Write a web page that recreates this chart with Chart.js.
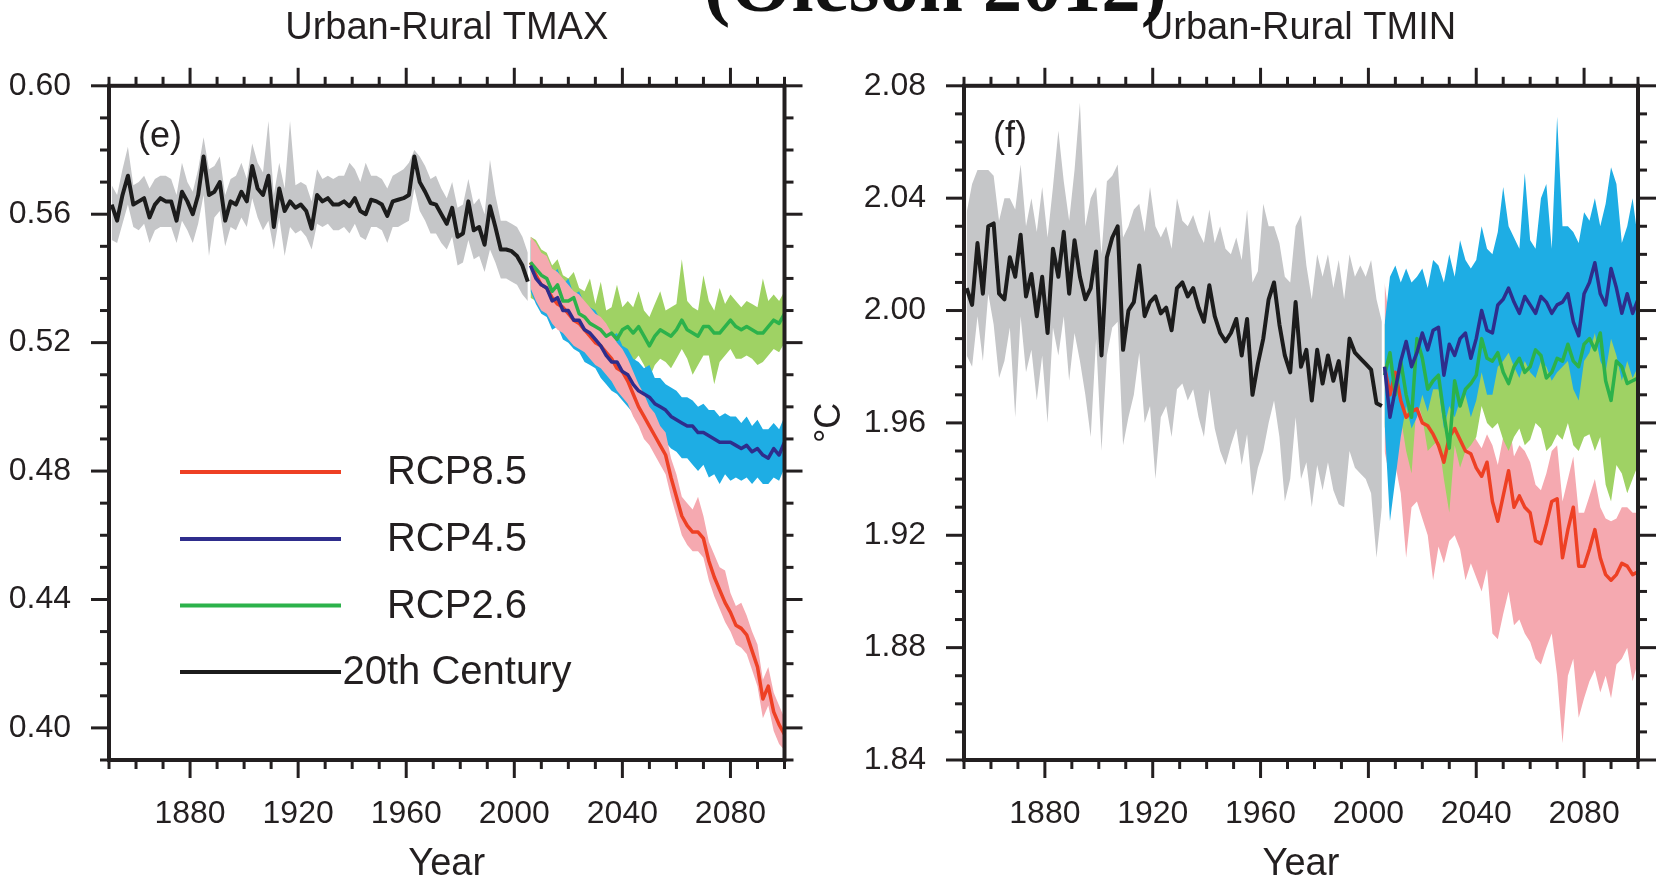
<!DOCTYPE html>
<html>
<head>
<meta charset="utf-8">
<script src="https://cdn.jsdelivr.net/npm/chart.js@4.4.1/dist/chart.umd.min.js"></script>
<style>
  body { margin: 0; background: #fff; width: 1660px; height: 887px; overflow: hidden; position: relative; }
  #left { position: absolute; left: 0; top: 0; }
  #right { position: absolute; left: 790px; top: 0; }
  #source { position: absolute; left: 704px; top: -55px; font: bold 79px "Liberation Serif", serif; line-height: 79px; color: #111; white-space: nowrap; }
</style>
</head>
<body>
<canvas id="left" width="830" height="887"></canvas>
<canvas id="right" width="870" height="887"></canvas>
<div id="source">(Oleson 2012)</div>
<script>
const FONT = '"Liberation Sans", Arial, sans-serif';
const INK = '#231f20';

function yearsFrom(start, end, step) {
  const out = [];
  for (let y = start; y <= end; y += step) out.push(y);
  return out;
}
const histYears = yearsFrom(1851, 2005, 2);
const rcpYears = yearsFrom(2006, 2100, 2);

// ticks
const yearTicks = [1880, 1920, 1960, 2000, 2040, 2080];
const yearMinor = [1850, 1860, 1870, 1890, 1900, 1910, 1930, 1940, 1950, 1970, 1980, 1990, 2010, 2020, 2030, 2050, 2060, 2070, 2090, 2100];
const tmaxTicks = [0.40, 0.44, 0.48, 0.52, 0.56, 0.60];
const tmaxMinor = [0.39, 0.41, 0.42, 0.43, 0.45, 0.46, 0.47, 0.49, 0.50, 0.51, 0.53, 0.54, 0.55, 0.57, 0.58, 0.59];
const tminTicks = [1.84, 1.88, 1.92, 1.96, 2.00, 2.04, 2.08];
const tminMinor = [1.85, 1.86, 1.87, 1.89, 1.90, 1.91, 1.93, 1.94, 1.95, 1.97, 1.98, 1.99, 2.01, 2.02, 2.03, 2.05, 2.06, 2.07];

// ---- Urban-Rural TMAX ----
const tmaxHist = [
  .563, .558, .566, .572, .563, .564, .565, .559, .563, .565,
  .564, .564, .558, .567, .564, .560, .566, .578, .566, .567,
  .570, .558, .564, .563, .567, .564, .575, .568, .566, .572,
  .556, .568, .561, .564, .562, .563, .561, .5555, .566, .564,
  .565, .563, .563, .564, .5625, .565, .561, .560, .5645, .564,
  .563, .5595, .564, .5645, .565, .566, .578, .570, .567, .5635,
  .563, .560, .557, .562, .553, .554, .564, .555, .556, .5505,
  .5625, .556, .549, .549, .5485, .547, .544, .539];
const tmaxHistHi = [
  .569, .566, .574, .581, .569, .570, .572, .568, .571, .572,
  .572, .571, .566, .576, .570, .567, .574, .584, .574, .575,
  .578, .566, .571, .572, .576, .571, .582, .576, .573, .589,
  .566, .576, .568, .589, .569, .570, .569, .564, .574, .571,
  .572, .571, .572, .572, .576, .574, .570, .576, .572, .572,
  .571, .568, .572, .573, .574, .576, .580, .578, .575, .571,
  .572, .568, .565, .570, .562, .563, .571, .563, .565, .560,
  .577, .566, .558, .558, .557, .556, .553, .548];
const tmaxHistLo = [
  .552, .551, .557, .563, .556, .555, .557, .551, .555, .556,
  .556, .556, .551, .558, .555, .551, .557, .566, .547, .559,
  .561, .550, .556, .555, .559, .556, .565, .559, .555, .558,
  .549, .559, .547, .556, .554, .555, .553, .549, .557, .556,
  .557, .555, .555, .556, .554, .557, .553, .552, .556, .556,
  .555, .551, .556, .556, .557, .558, .568, .561, .558, .554,
  .554, .551, .549, .553, .544, .545, .552, .546, .547, .542,
  .549, .545, .540, .540, .539, .538, .535, .533];
const tmax26 = [
  .545, .543, .541, .540, .536, .538, .533, .533, .534, .529,
  .528, .526, .525, .524, .522, .523, .521, .524, .525, .523,
  .525, .522, .519, .522, .524, .523, .522, .524, .527, .524,
  .523, .522, .525, .525, .523, .523, .525, .527, .525, .524,
  .525, .524, .523, .523, .525, .527, .526, .529];
const tmax26Hi = [
  .553, .552, .549, .548, .544, .546, .541, .540, .542, .537,
  .536, .540, .532, .539, .530, .531, .538, .531, .533, .531,
  .536, .530, .528, .532, .536, .530, .531, .532, .546, .533,
  .531, .530, .541, .533, .530, .537, .532, .535, .533, .531,
  .533, .532, .531, .540, .533, .535, .533, .536];
const tmax26Lo = [
  .534, .533, .531, .530, .527, .529, .524, .523, .524, .520,
  .518, .517, .516, .515, .513, .514, .512, .515, .509, .514,
  .516, .513, .509, .513, .515, .514, .512, .515, .518, .515,
  .510, .513, .516, .516, .507, .514, .516, .518, .515, .515,
  .516, .515, .513, .514, .516, .518, .517, .520];
const tmax45 = [
  .544, .540, .538, .537, .533, .534, .530, .530, .527, .527,
  .524, .523, .521, .519, .516, .514, .514, .511, .510, .507,
  .505, .504, .503, .501, .500, .499, .497, .496, .495, .494,
  .494, .492, .492, .491, .490, .489, .489, .489, .488, .487,
  .488, .486, .487, .485, .484, .487, .485, .489];
const tmax45Hi = [
  .552, .549, .547, .545, .541, .543, .538, .540, .535, .536,
  .532, .531, .530, .527, .525, .522, .523, .519, .518, .515,
  .514, .512, .513, .509, .509, .507, .506, .505, .503, .503,
  .502, .500, .501, .499, .499, .497, .498, .497, .497, .495,
  .497, .494, .496, .493, .493, .495, .493, .497];
const tmax45Lo = [
  .536, .532, .529, .528, .524, .525, .521, .520, .518, .517,
  .514, .513, .512, .509, .507, .505, .504, .502, .500, .498,
  .496, .495, .493, .492, .490, .489, .487, .486, .484, .484,
  .482, .480, .482, .478, .479, .476, .479, .477, .478, .477,
  .478, .476, .478, .476, .476, .478, .477, .481];
const tmax85 = [
  .545, .541, .538, .537, .534, .532, .531, .529, .527, .526,
  .524, .522, .520, .519, .517, .515, .512, .511, .508, .504,
  .500, .497, .494, .491, .488, .485, .478, .472, .466, .463,
  .461, .461, .459, .452, .447, .443, .439, .436, .432, .431,
  .429, .424, .419, .409, .413, .405, .401, .398];
const tmax85Hi = [
  .553, .551, .548, .547, .543, .542, .540, .538, .536, .535,
  .533, .531, .529, .528, .526, .523, .520, .518, .515, .511,
  .507, .504, .500, .498, .494, .492, .484, .479, .472, .470,
  .468, .472, .466, .458, .454, .450, .449, .442, .438, .439,
  .435, .430, .426, .415, .419, .411, .407, .403];
const tmax85Lo = [
  .537, .533, .530, .529, .526, .524, .523, .521, .519, .518,
  .517, .515, .513, .512, .510, .508, .505, .503, .501, .497,
  .494, .490, .488, .485, .482, .479, .472, .466, .460, .457,
  .455, .455, .453, .446, .441, .437, .433, .430, .426, .425,
  .423, .418, .413, .403, .407, .399, .395, .393];

// ---- Urban-Rural TMIN ----
const tminHist = [
  2.008, 2.002, 2.024, 2.006, 2.030, 2.031, 2.006, 2.004, 2.019, 2.012,
  2.027, 2.005, 2.013, 1.998, 2.012, 1.992, 2.022, 2.012, 2.028, 2.006,
  2.025, 2.012, 2.004, 2.008, 2.021, 1.984, 2.019, 2.026, 2.030, 1.986,
  2.000, 2.003, 2.016, 1.998, 2.003, 2.005, 1.999, 2.001, 1.993, 2.008,
  2.010, 2.005, 2.008, 2.001, 1.996, 2.009, 1.998, 1.992, 1.989, 1.992,
  1.997, 1.984, 1.997, 1.970, 1.981, 1.990, 2.004, 2.010, 1.995, 1.984,
  1.978, 2.003, 1.980, 1.986, 1.968, 1.986, 1.974, 1.984, 1.975, 1.982,
  1.968, 1.990, 1.985, 1.983, 1.981, 1.979, 1.967, 1.966];
const tminHistHi = [
  2.035, 2.045, 2.050, 2.050, 2.050, 2.048, 2.032, 2.040, 2.040, 2.036,
  2.052, 2.030, 2.040, 2.028, 2.044, 2.026, 2.044, 2.064, 2.046, 2.032,
  2.050, 2.074, 2.030, 2.040, 2.044, 2.020, 2.046, 2.048, 2.052, 2.026,
  2.030, 2.036, 2.038, 2.028, 2.044, 2.030, 2.026, 2.030, 2.022, 2.040,
  2.032, 2.030, 2.034, 2.028, 2.024, 2.036, 2.024, 2.030, 2.022, 2.020,
  2.026, 2.018, 2.036, 2.010, 2.014, 2.038, 2.030, 2.030, 2.024, 2.012,
  2.010, 2.030, 2.034, 2.016, 2.004, 2.020, 2.012, 2.020, 2.008, 2.018,
  2.004, 2.020, 2.012, 2.016, 2.012, 2.018, 2.004, 1.996];
const tminHistLo = [
  1.984, 1.980, 1.998, 1.982, 2.006, 1.995, 1.976, 1.982, 1.994, 1.962,
  1.998, 1.978, 1.986, 1.968, 1.984, 1.960, 1.994, 1.984, 1.998, 1.975,
  1.992, 1.982, 1.970, 1.955, 1.990, 1.950, 1.984, 1.994, 1.996, 1.952,
  1.962, 1.970, 1.985, 1.960, 1.966, 1.940, 1.962, 1.966, 1.955, 1.972,
  1.974, 1.968, 1.972, 1.962, 1.955, 1.972, 1.958, 1.950, 1.945, 1.952,
  1.958, 1.945, 1.956, 1.934, 1.944, 1.950, 1.960, 1.968, 1.955, 1.932,
  1.940, 1.962, 1.940, 1.946, 1.930, 1.945, 1.936, 1.946, 1.936, 1.931,
  1.930, 1.950, 1.944, 1.942, 1.940, 1.935, 1.912, 1.930];
const tmin26 = [
  1.977, 1.985, 1.970, 1.982, 1.970, 1.962, 1.990, 1.983, 1.972, 1.975,
  1.977, 1.963, 1.951, 1.975, 1.966, 1.972, 1.974, 1.977, 1.990, 1.983,
  1.982, 1.985, 1.978, 1.974, 1.980, 1.983, 1.978, 1.980, 1.986, 1.984,
  1.976, 1.978, 1.983, 1.982, 1.988, 1.982, 1.980, 1.988, 1.990, 1.986,
  1.992, 1.975, 1.968, 1.982, 1.980, 1.974, 1.975, 1.976];
const tmin26Hi = [
  1.995, 2.000, 1.990, 2.000, 1.990, 1.985, 2.010, 2.002, 1.992, 1.995,
  1.996, 1.984, 1.975, 1.995, 1.988, 1.992, 1.994, 1.997, 2.010, 2.002,
  2.001, 2.004, 1.998, 1.994, 2.000, 2.003, 1.998, 2.000, 2.006, 2.004,
  1.996, 1.998, 2.003, 2.002, 2.008, 2.002, 2.000, 2.008, 2.010, 2.006,
  2.012, 1.995, 1.990, 2.002, 2.000, 1.995, 1.996, 1.998];
const tmin26Lo = [
  1.958, 1.965, 1.950, 1.962, 1.950, 1.942, 1.968, 1.962, 1.950, 1.952,
  1.954, 1.940, 1.928, 1.952, 1.944, 1.950, 1.952, 1.955, 1.966, 1.960,
  1.958, 1.960, 1.954, 1.950, 1.955, 1.958, 1.952, 1.954, 1.960, 1.958,
  1.950, 1.952, 1.956, 1.954, 1.960, 1.952, 1.950, 1.955, 1.956, 1.950,
  1.955, 1.938, 1.932, 1.945, 1.942, 1.935, 1.940, 1.945];
const tmin45 = [
  1.980, 1.962, 1.972, 1.982, 1.989, 1.980, 1.985, 1.992, 1.986, 1.993,
  1.994, 1.977, 1.988, 1.984, 1.990, 1.992, 1.983, 1.990, 2.000, 1.993,
  1.992, 2.002, 2.004, 2.008, 2.003, 1.999, 2.005, 2.002, 1.999, 2.005,
  2.003, 1.999, 2.002, 2.003, 2.006, 1.996, 1.991, 2.006, 2.010, 2.017,
  2.006, 2.002, 2.015, 2.008, 1.999, 2.006, 1.999, 2.004];
const tmin45Hi = [
  1.995, 2.012, 2.016, 2.010, 2.015, 2.010, 2.012, 2.015, 2.008, 2.018,
  2.016, 2.010, 2.020, 2.012, 2.025, 2.018, 2.015, 2.018, 2.030, 2.022,
  2.020, 2.028, 2.044, 2.030, 2.026, 2.022, 2.049, 2.025, 2.022, 2.040,
  2.045, 2.022, 2.069, 2.030, 2.030, 2.028, 2.024, 2.035, 2.032, 2.040,
  2.030, 2.038, 2.051, 2.045, 2.024, 2.030, 2.040, 2.025];
const tmin45Lo = [
  1.960, 1.925, 1.940, 1.955, 1.966, 1.958, 1.962, 1.970, 1.964, 1.972,
  1.972, 1.958, 1.966, 1.962, 1.968, 1.970, 1.962, 1.968, 1.978, 1.970,
  1.970, 1.980, 1.982, 1.985, 1.980, 1.976, 1.982, 1.978, 1.976, 1.982,
  1.980, 1.975, 1.978, 1.980, 1.982, 1.972, 1.968, 1.982, 1.985, 1.992,
  1.982, 1.978, 1.990, 1.984, 1.975, 1.982, 1.976, 1.980];
const tmin85 = [
  1.980, 1.970, 1.978, 1.968, 1.962, 1.964, 1.965, 1.960, 1.959, 1.956,
  1.952, 1.946, 1.955, 1.958, 1.954, 1.950, 1.949, 1.944, 1.941, 1.946,
  1.932, 1.925, 1.934, 1.943, 1.930, 1.934, 1.930, 1.928, 1.918, 1.917,
  1.924, 1.932, 1.933, 1.912, 1.922, 1.930, 1.909, 1.909, 1.915, 1.922,
  1.912, 1.906, 1.904, 1.906, 1.910, 1.909, 1.906, 1.907];
const tmin85Hi = [
  2.010, 1.995, 1.990, 1.978, 1.972, 1.975, 1.974, 1.970, 1.968, 1.965,
  1.962, 1.956, 1.966, 1.968, 1.964, 1.960, 1.958, 1.954, 1.951, 1.956,
  1.952, 1.945, 1.955, 1.962, 1.948, 1.952, 1.950, 1.946, 1.938, 1.936,
  1.942, 1.950, 1.952, 1.932, 1.940, 1.948, 1.928, 1.928, 1.934, 1.940,
  1.930, 1.926, 1.925, 1.926, 1.930, 1.930, 1.928, 1.928];
const tmin85Lo = [
  1.950, 1.940, 1.945, 1.935, 1.912, 1.930, 1.932, 1.926, 1.920, 1.904,
  1.916, 1.910, 1.918, 1.920, 1.915, 1.904, 1.910, 1.905, 1.900, 1.908,
  1.885, 1.883, 1.892, 1.900, 1.888, 1.890, 1.885, 1.882, 1.876, 1.874,
  1.880, 1.885, 1.870, 1.846, 1.870, 1.876, 1.855, 1.862, 1.868, 1.872,
  1.864, 1.870, 1.862, 1.874, 1.876, 1.880, 1.868, 1.875];

const colors = {
  hist: '#1c1c1c', histBand: '#c5c6c8',
  rcp85: '#ee4024', rcp85Band: '#f5a9b0',
  rcp45: '#2e2d8c', rcp45Band: '#1eade4',
  rcp26: '#2cb24b', rcp26Band: '#9fd264'
};

function pts(xs, ys) { return xs.map((x, i) => ({ x: x, y: ys[i] })); }

function lineDs(label, xs, ys, color, width, order) {
  return { label: label, data: pts(xs, ys), borderColor: color, borderWidth: width,
           borderJoinStyle: 'round', pointRadius: 0, fill: false, order: order };
}
function bandDs(xs, lo, hi, color, order) {
  return [
    { label: '', data: pts(xs, lo), borderColor: 'rgba(0,0,0,0)', borderWidth: 0, pointRadius: 0, fill: false, order: order },
    { label: '', data: pts(xs, hi), borderColor: 'rgba(0,0,0,0)', borderWidth: 0, pointRadius: 0,
      backgroundColor: color, fill: '-1', order: order }
  ];
}

// box with outward ticks on all four sides
const framePlugin = {
  id: 'frame',
  afterDraw(chart, args, opts) {
    const { ctx, chartArea: a } = chart;
    const x = chart.scales.x, y = chart.scales.y;
    ctx.save();
    ctx.strokeStyle = INK;
    ctx.lineWidth = 3;
    function seg(x1, y1, x2, y2) { ctx.beginPath(); ctx.moveTo(x1, y1); ctx.lineTo(x2, y2); ctx.stroke(); }
    function xt(vals, len) {
      vals.forEach(v => { const p = x.getPixelForValue(v); seg(p, a.top, p, a.top - len); seg(p, a.bottom, p, a.bottom + len); });
    }
    function yt(vals, len) {
      vals.forEach(v => { const p = y.getPixelForValue(v); seg(a.left, p, a.left - len, p); seg(a.right, p, a.right + len, p); });
    }
    xt(opts.xMajor, 18); xt(opts.xMinor, 9);
    yt(opts.yMajor, 18); yt(opts.yMinor, 9);
    ctx.lineWidth = 4;
    ctx.strokeRect(a.left, a.top, a.right - a.left, a.bottom - a.top);
    ctx.restore();
  }
};

const tagPlugin = {
  id: 'tag',
  afterDraw(chart, args, opts) {
    const { ctx, chartArea: a } = chart;
    ctx.save();
    ctx.fillStyle = INK;
    ctx.font = '36px ' + FONT;
    ctx.textBaseline = 'middle';
    ctx.fillText(opts.text, a.left + 29, a.top + 51);
    if (opts.legend) {
      const ys = [472, 539, 605.5, 672];
      ctx.font = '40px ' + FONT;
      ctx.textAlign = 'center';
      opts.legend.forEach((it, i) => {
        ctx.strokeStyle = it[1];
        ctx.lineWidth = 4;
        ctx.beginPath(); ctx.moveTo(180, ys[i]); ctx.lineTo(341, ys[i]); ctx.stroke();
        ctx.fillStyle = INK;
        ctx.fillText(it[0], 457, ys[i] + 1);
      });
    }
    ctx.restore();
  }
};

function makeChart(id, cfg) {
  const o = cfg.bandOrder;
  const datasets = [
    lineDs('20th Century', histYears, cfg.hist, colors.hist, 4, 0),
    lineDs('RCP4.5', rcpYears, cfg.r45, colors.rcp45, 3.5, 1),
    lineDs('RCP2.6', rcpYears, cfg.r26, colors.rcp26, 3.5, 2),
    lineDs('RCP8.5', rcpYears, cfg.r85, colors.rcp85, 3.5, 3)
  ].concat(
    bandDs(rcpYears, cfg.r85Lo, cfg.r85Hi, colors.rcp85Band, o.r85),
    bandDs(rcpYears, cfg.r45Lo, cfg.r45Hi, colors.rcp45Band, o.r45),
    bandDs(rcpYears, cfg.r26Lo, cfg.r26Hi, colors.rcp26Band, o.r26),
    bandDs(histYears, cfg.histLo, cfg.histHi, colors.histBand, 20)
  );
  return new Chart(document.getElementById(id), {
    type: 'line',
    data: { datasets: datasets },
    plugins: [framePlugin, tagPlugin],
    options: {
      responsive: false, animation: false, devicePixelRatio: 1,
      layout: { padding: { left: 0, right: cfg.padRight, top: 0, bottom: 0 } },
      plugins: {
        legend: { display: false },
        tooltip: { enabled: false },
        title: { display: true, text: cfg.title, fullSize: false, color: INK,
                 font: { family: FONT, size: 38, weight: 'normal', lineHeight: 1 },
                 padding: { top: 10, bottom: 37.8 } },
        frame: { xMajor: yearTicks, xMinor: yearMinor, yMajor: cfg.yTicks, yMinor: cfg.yMinor },
        tag: { text: cfg.tag, legend: cfg.legend }
      },
      scales: {
        x: {
          type: 'linear', min: 1850, max: 2100,
          afterBuildTicks: s => { s.ticks = yearTicks.map(v => ({ value: v })); },
          afterFit: s => { s.height = 127; },
          grid: { display: false, drawTicks: false }, border: { display: false },
          ticks: { autoSkip: false, maxRotation: 0, padding: 35, color: INK,
                   font: { family: FONT, size: 32 }, callback: v => String(v) },
          title: { display: true, text: 'Year', color: INK, font: { family: FONT, size: 38 }, padding: 0 }
        },
        y: {
          min: cfg.yMin, max: cfg.yMax,
          afterBuildTicks: s => { s.ticks = cfg.yTicks.map(v => ({ value: v })); },
          afterFit: s => { s.width = cfg.yWidth; },
          grid: { display: false, drawTicks: false }, border: { display: false },
          ticks: { autoSkip: false, padding: 38, color: INK,
                   font: { family: FONT, size: 32 }, callback: v => v.toFixed(2) },
          title: cfg.yTitle
            ? { display: true, text: cfg.yTitle, color: INK, font: { family: FONT, size: 36 }, padding: 18 }
            : { display: false }
        }
      }
    }
  });
}

makeChart('left', {
  title: 'Urban-Rural TMAX', tag: '(e)', padRight: 45.5, yWidth: 109,
  yMin: 0.39, yMax: 0.60, yTicks: tmaxTicks, yMinor: tmaxMinor,
  bandOrder: { r85: 10, r45: 11, r26: 12 },
  hist: tmaxHist, histHi: tmaxHistHi, histLo: tmaxHistLo,
  r26: tmax26, r26Hi: tmax26Hi, r26Lo: tmax26Lo,
  r45: tmax45, r45Hi: tmax45Hi, r45Lo: tmax45Lo,
  r85: tmax85, r85Hi: tmax85Hi, r85Lo: tmax85Lo,
  legend: [['RCP8.5', colors.rcp85], ['RCP4.5', colors.rcp45], ['RCP2.6', colors.rcp26], ['20th Century', colors.hist]]
});

makeChart('right', {
  title: 'Urban-Rural TMIN', tag: '(f)', padRight: 22, yWidth: 174, yTitle: '°C',
  yMin: 1.84, yMax: 2.08, yTicks: tminTicks, yMinor: tminMinor,
  bandOrder: { r45: 10, r26: 11, r85: 12 },
  hist: tminHist, histHi: tminHistHi, histLo: tminHistLo,
  r26: tmin26, r26Hi: tmin26Hi, r26Lo: tmin26Lo,
  r45: tmin45, r45Hi: tmin45Hi, r45Lo: tmin45Lo,
  r85: tmin85, r85Hi: tmin85Hi, r85Lo: tmin85Lo
});
</script>
</body>
</html>
